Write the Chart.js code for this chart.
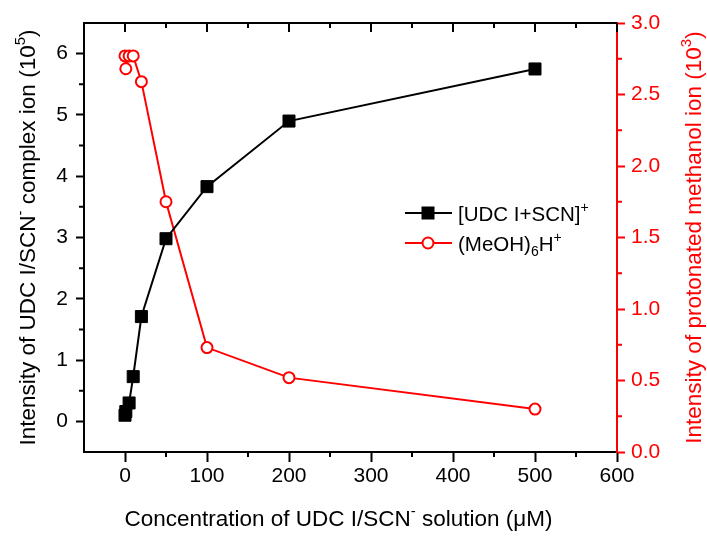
<!DOCTYPE html>
<html>
<head>
<meta charset="utf-8">
<script src="https://cdn.jsdelivr.net/npm/chart.js@4/dist/chart.umd.min.js"></script>
<style>
  html, body { margin: 0; padding: 0; background: #fff; }
  #wrap { width: 707px; height: 536px; }
</style>
</head>
<body>
<div id="wrap"><canvas id="myChart"></canvas></div>
<script>
(function () {
  'use strict';

  // concentration (uM)
  var conc = [0, 1, 5, 10, 20, 50, 100, 200, 500];
  // [UDC I+SCN]+ intensity (10^5)
  var udc = [0.10, 0.16, 0.30, 0.73, 1.71, 2.98, 3.83, 4.90, 5.75];
  // (MeOH)6H+ intensity (10^3)
  var meoh = [2.77, 2.68, 2.77, 2.77, 2.59, 1.75, 0.73, 0.52, 0.30];

  var xTicks = [0, 100, 200, 300, 400, 500, 600];
  var xMinor = [-50, 50, 150, 250, 350, 450, 550];
  var yTicks = [0, 1, 2, 3, 4, 5, 6];
  var yMinor = [-0.5, 0.5, 1.5, 2.5, 3.5, 4.5, 5.5, 6.5];
  var y2Ticks = [0, 0.5, 1.0, 1.5, 2.0, 2.5, 3.0];
  var y2Minor = [0.25, 0.75, 1.25, 1.75, 2.25, 2.75];

  var FONT = '"Liberation Sans", Arial, sans-serif';
  var RED = '#ff0000';

  function pts(xs, ys) {
    return xs.map(function (x, i) { return { x: x, y: ys[i] }; });
  }

  // text pieces: [text, kind] kind 0 normal, 1 superscript, -1 subscript
  function drawRich(ctx, parts, x, y, rot, color, align, size) {
    var big = size + 'px ' + FONT, small = Math.round(size * 0.66) + 'px ' + FONT;
    ctx.save();
    ctx.translate(x, y);
    ctx.rotate(rot);
    ctx.fillStyle = color;
    ctx.textBaseline = 'alphabetic';
    ctx.textAlign = 'left';
    var w = 0;
    parts.forEach(function (p) {
      ctx.font = p[1] ? small : big;
      w += ctx.measureText(p[0]).width;
    });
    var cx = align === 'left' ? 0 : -w / 2;
    parts.forEach(function (p) {
      ctx.font = p[1] ? small : big;
      var dy = p[1] === 1 ? -size * 0.43 : (p[1] === -1 ? size * 0.25 : 0);
      ctx.fillText(p[0], cx, dy);
      cx += ctx.measureText(p[0]).width;
    });
    ctx.restore();
  }

  var decor = {
    id: 'decor',
    afterDraw: function (chart) {
      var ctx = chart.ctx;
      var a = chart.chartArea;
      var sx = chart.scales.x, sy = chart.scales.y, sy2 = chart.scales.y2;
      ctx.save();
      ctx.lineWidth = 2;
      // top frame + inward ticks, minor ticks
      ctx.strokeStyle = '#000';
      ctx.beginPath();
      ctx.moveTo(a.left - 1, a.top);
      ctx.lineTo(a.right, a.top);
      xTicks.forEach(function (v) {
        var px = sx.getPixelForValue(v);
        ctx.moveTo(px, a.top); ctx.lineTo(px, a.top + 9);
      });
      xMinor.forEach(function (v) {
        var px = sx.getPixelForValue(v);
        if (px > a.left + 2) {
          ctx.moveTo(px, a.top); ctx.lineTo(px, a.top + 5);
          ctx.moveTo(px, a.bottom); ctx.lineTo(px, a.bottom + 5);
        }
      });
      yMinor.forEach(function (v) {
        var py = sy.getPixelForValue(v);
        if (py > a.top + 2 && py < a.bottom - 2) { ctx.moveTo(a.left, py); ctx.lineTo(a.left - 5, py); }
      });
      ctx.stroke();
      ctx.strokeStyle = RED;
      ctx.beginPath();
      y2Minor.forEach(function (v) {
        var py = sy2.getPixelForValue(v);
        ctx.moveTo(a.right, py); ctx.lineTo(a.right + 5, py);
      });
      ctx.stroke();

      // axis titles
      var midY = (a.top + a.bottom) / 2;
      drawRich(ctx, [['Intensity of UDC I/SCN', 0], ['-', 1], [' complex ion (10', 0], ['5', 1], [')', 0]],
        35, midY, -Math.PI / 2, '#000', 'center', 22.5);
      drawRich(ctx, [['Intensity of protonated methanol ion (10', 0], ['3', 1], [')', 0]],
        701, midY, -Math.PI / 2, RED, 'center', 22.5);
      drawRich(ctx, [['Concentration of UDC I/SCN', 0], ['-', 1], [' solution (\u03bcM)', 0]],
        (a.left + a.right) / 2 - 12, 526, 0, '#000', 'center', 22.5);

      // legend
      var rows = [
        { y: 213, color: '#000', parts: [['[UDC I+SCN]', 0], ['+', 1]], square: true },
        { y: 243, color: RED, parts: [['(MeOH)', 0], ['6', -1], ['H', 0], ['+', 1]], square: false }
      ];
      rows.forEach(function (r) {
        ctx.strokeStyle = r.color;
        ctx.lineWidth = 2;
        ctx.beginPath();
        ctx.moveTo(405, r.y); ctx.lineTo(452, r.y);
        ctx.stroke();
        if (r.square) {
          ctx.fillStyle = '#000';
          ctx.fillRect(428 - 6.5, r.y - 6.5, 13, 13);
        } else {
          ctx.fillStyle = '#fff';
          ctx.beginPath();
          ctx.arc(428, r.y, 5.5, 0, Math.PI * 2);
          ctx.fill();
          ctx.stroke();
        }
        drawRich(ctx, r.parts, 458, r.y + 8, 0, '#000', 'left', 20.5);
      });
      ctx.restore();
    }
  };

  var ctx = document.getElementById('myChart').getContext('2d');
  var myChart = new Chart(ctx, {
    type: 'scatter',
    data: {
      datasets: [{
        label: '[UDC I+SCN]+',
        data: pts(conc, udc),
        yAxisID: 'y',
        showLine: true,
        borderColor: '#000',
        backgroundColor: '#000',
        borderWidth: 2,
        pointStyle: 'rect',
        pointRadius: 8.5,
        pointBorderWidth: 1,
        pointHoverRadius: 8.5
      }, {
        label: '(MeOH)6H+',
        data: pts(conc, meoh),
        yAxisID: 'y2',
        showLine: true,
        borderColor: RED,
        backgroundColor: '#fff',
        borderWidth: 2,
        pointStyle: 'circle',
        pointRadius: 5.5,
        pointBorderWidth: 2,
        pointHoverRadius: 5.5
      }]
    },
    options: {
      responsive: true,
      maintainAspectRatio: false,
      animation: false,
      layout: { padding: { top: 23, left: 0, right: 0, bottom: 0 } },
      plugins: {
        legend: { display: false },
        tooltip: { enabled: false }
      },
      scales: {
        x: {
          type: 'linear',
          position: 'bottom',
          min: -50,
          max: 600,
          afterBuildTicks: function (s) { s.ticks = xTicks.map(function (v) { return { value: v }; }); },
          afterFit: function (s) { s.height = 84; },
          ticks: { color: '#000', font: { family: FONT, size: 21 }, padding: 2, maxRotation: 0 },
          grid: { display: true, drawOnChartArea: false, drawTicks: true, tickLength: 10, tickWidth: 2, tickColor: '#000' },
          border: { display: true, color: '#000', width: 2 }
        },
        y: {
          type: 'linear',
          position: 'left',
          min: -0.5,
          max: 6.5,
          afterBuildTicks: function (s) { s.ticks = yTicks.map(function (v) { return { value: v }; }); },
          afterFit: function (s) { s.width = 84; },
          ticks: { color: '#000', font: { family: FONT, size: 21 }, padding: 8 },
          grid: { display: true, drawOnChartArea: false, drawTicks: true, tickLength: 8, tickWidth: 2, tickColor: '#000' },
          border: { display: true, color: '#000', width: 2 }
        },
        y2: {
          type: 'linear',
          position: 'right',
          min: 0,
          max: 3,
          afterBuildTicks: function (s) { s.ticks = y2Ticks.map(function (v) { return { value: v }; }); },
          afterFit: function (s) { s.width = 90; },
          ticks: {
            color: RED, font: { family: FONT, size: 21 }, padding: 6,
            callback: function (v) { return Number(v).toFixed(1); }
          },
          grid: { display: true, drawOnChartArea: false, drawTicks: true, tickLength: 8, tickWidth: 2, tickColor: RED },
          border: { display: true, color: RED, width: 2 }
        }
      }
    },
    plugins: [decor]
  });
})();
</script>
</body>
</html>
